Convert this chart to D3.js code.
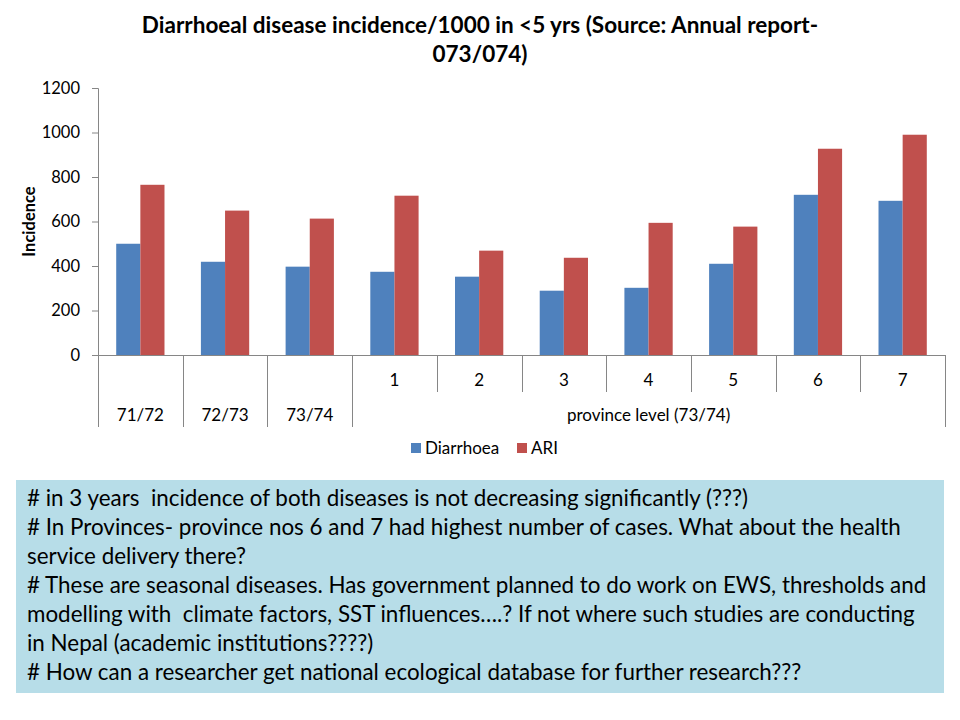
<!DOCTYPE html>
<html>
<head>
<meta charset="utf-8">
<script src="https://cdn.jsdelivr.net/npm/d3@7"></script>
<style>
  body { margin: 0; background: #fff; }
  text { font-family: Lato, "Open Sans", sans-serif; white-space: pre; }
</style>
</head>
<body>
<div id="target"></div>
<script>
// data
var categories = ["71/72", "72/73", "73/74", "1", "2", "3", "4", "5", "6", "7"];
var groupLabels = ["71/72", "72/73", "73/74", "province level (73/74)"];
var groupSpans = [1, 1, 1, 7];
var series = ["Diarrhoea", "ARI"];
var diarrhoea = [500, 419, 397, 374, 352, 289, 302, 410, 720, 693];
var ari = [765, 649, 613, 716, 469, 437, 594, 577, 927, 990];
var yTicks = [0, 200, 400, 600, 800, 1000, 1200];
var colors = ["#4f81bd", "#c0504d"];
var notes = [
  "# in 3 years  incidence of both diseases is not decreasing significantly (???)",
  "# In Provinces- province nos 6 and 7 had highest number of cases. What about the health",
  "service delivery there?",
  "# These are seasonal diseases. Has government planned to do work on EWS, thresholds and",
  "modelling with  climate factors, SST influences\u2026.? If not where such studies are conducting",
  "in Nepal (academic institutions????)",
  "# How can a researcher get national ecological database for further research???"
];

var W = 960, H = 720;
var svg = d3.select("#target").append("svg").attr("width", W).attr("height", H);

var plot = { left: 98, right: 945, top: 88, bottom: 355 };

var x0 = d3.scaleBand().domain(categories).range([plot.left, plot.right]).padding(0);
var bw = x0.bandwidth();
var x1 = d3.scaleBand().domain(series).range([bw * 0.215, bw * 0.785]).padding(0);
var y = d3.scaleLinear().domain([0, 1200]).range([plot.bottom, plot.top]);

// title
var title = svg.append("text")
  .attr("text-anchor", "middle")
  .attr("font-weight", "bold")
  .attr("font-size", 22.5)
  .attr("fill", "#000");
title.append("tspan").attr("x", 480).attr("y", 33)
  .text("Diarrhoeal disease incidence/1000 in <5 yrs (Source: Annual report-");
title.append("tspan").attr("x", 480).attr("y", 62).text("073/074)");

// y axis
var yAxis = svg.append("g")
  .attr("transform", "translate(" + plot.left + ",0)")
  .call(d3.axisLeft(y).tickValues(yTicks).tickSize(6).tickPadding(12).tickFormat(d3.format("d")));
yAxis.select(".domain").attr("stroke", "#868686");
yAxis.selectAll(".tick line").attr("stroke", "#868686");
yAxis.selectAll(".tick text").attr("font-size", 16.5).attr("fill", "#000")
  .style("font-family", "Lato, 'Open Sans', sans-serif");

svg.append("text")
  .attr("transform", "translate(35," + ((plot.top + plot.bottom) / 2) + ") rotate(-90)")
  .attr("text-anchor", "middle")
  .attr("font-weight", "bold")
  .attr("font-size", 16.5)
  .text("Incidence");

// bars
var rows = categories.map(function(c, i) {
  return { cat: c, values: [diarrhoea[i], ari[i]] };
});
var groups = svg.append("g").selectAll("g")
  .data(rows)
  .enter()
  .append("g")
  .attr("transform", function(d) { return "translate(" + x0(d.cat) + ",0)"; });

groups.selectAll("rect")
  .data(function(d) {
    return series.map(function(s, j) { return { s: s, v: d.values[j], j: j }; });
  })
  .enter()
  .append("rect")
  .attr("x", function(d) { return x1(d.s); })
  .attr("width", x1.bandwidth())
  .attr("y", function(d) { return y(d.v); })
  .attr("height", function(d) { return plot.bottom - y(d.v); })
  .attr("fill", function(d) { return colors[d.j]; });

// x axis line
svg.append("line")
  .attr("x1", plot.left).attr("x2", plot.right)
  .attr("y1", plot.bottom + 0.5).attr("y2", plot.bottom + 0.5)
  .attr("stroke", "#868686");

// multi level category axis
var rowShort = 392, rowLong = 427;
var grid = svg.append("g").attr("stroke", "#868686").attr("stroke-width", 1);

var boundaries = [0];
groupSpans.reduce(function(acc, n) { boundaries.push(acc + n); return acc + n; }, 0);

// short ticks between provinces
categories.forEach(function(c, i) {
  if (boundaries.indexOf(i) < 0) {
    grid.append("line")
      .attr("x1", Math.round(x0(c)) + 0.5).attr("x2", Math.round(x0(c)) + 0.5)
      .attr("y1", plot.bottom).attr("y2", rowShort);
  }
});
// long ticks at group boundaries
boundaries.forEach(function(b) {
  var xx = b < categories.length ? x0(categories[b]) : plot.right;
  grid.append("line")
    .attr("x1", Math.round(xx) + 0.5).attr("x2", Math.round(xx) + 0.5)
    .attr("y1", plot.bottom).attr("y2", rowLong);
});

// first row labels (provinces only)
categories.forEach(function(c, i) {
  if (i >= 3) {
    svg.append("text")
      .attr("x", x0(c) + bw / 2)
      .attr("y", 386)
      .attr("text-anchor", "middle")
      .attr("font-size", 17)
      .text(c);
  }
});

// second row labels
groupLabels.forEach(function(lbl, k) {
  var a = x0(categories[boundaries[k]]);
  var b = boundaries[k + 1] < categories.length ? x0(categories[boundaries[k + 1]]) : plot.right;
  svg.append("text")
    .attr("x", (a + b) / 2)
    .attr("y", 421)
    .attr("text-anchor", "middle")
    .attr("font-size", 17)
    .text(lbl);
});

// legend
var legend = svg.append("g");
var lx = [411, 517];
series.forEach(function(s, j) {
  legend.append("rect")
    .attr("x", lx[j]).attr("y", 443)
    .attr("width", 10).attr("height", 10)
    .attr("fill", colors[j]);
  legend.append("text")
    .attr("x", lx[j] + 14).attr("y", 454)
    .attr("font-size", 17)
    .text(s);
});

// notes box
svg.append("rect")
  .attr("x", 16).attr("y", 480)
  .attr("width", 928).attr("height", 213)
  .attr("fill", "#b7dde8");

svg.append("g").selectAll("text")
  .data(notes)
  .enter()
  .append("text")
  .attr("x", 27)
  .attr("y", function(d, i) { return 506 + i * 29; })
  .attr("font-size", 22.4)
  .attr("fill", "#000")
  .text(function(d) { return d; });
</script>
</body>
</html>
